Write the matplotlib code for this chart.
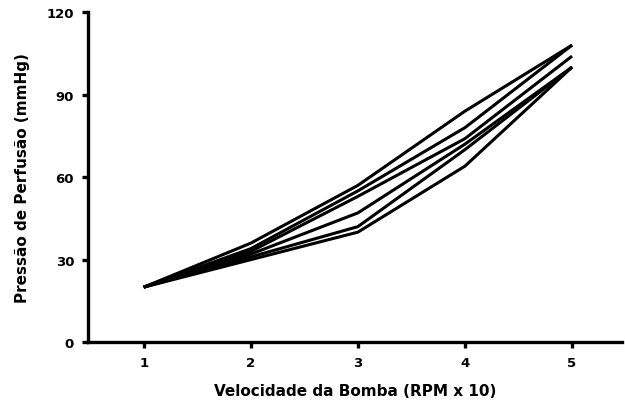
import matplotlib
matplotlib.use("Agg")
import matplotlib.pyplot as plt

# pump speed (RPM x 10) and perfusion pressure per run (mmHg)
speed = [1, 2, 3, 4, 5]
run_a = [20, 36, 57, 84, 108]
run_b = [20, 34, 55, 78, 108]
run_c = [20, 33, 53, 74, 104]
run_d = [20, 32, 47, 72, 100]
run_e = [20, 31, 42, 70, 100]
run_f = [20, 30, 40, 64, 100]
runs = [run_a, run_b, run_c, run_d, run_e, run_f]

y_ticks = [0, 30, 60, 90, 120]

plt.rcParams['font.family'] = ['DejaVu Sans']

fig = plt.figure(figsize=(6.25, 4.10), dpi=100)
ax = fig.add_axes([0.1408, 0.163, 0.855, 0.805])

for r in runs:
    ax.plot(speed, r, color='black', lw=2.2, solid_joinstyle='round', solid_capstyle='butt')

ax.set_xlim(0.48, 5.47)
ax.set_ylim(0, 120)
ax.set_xticks(speed)
ax.set_yticks(y_ticks)
ax.set_xticklabels([str(s) for s in speed], fontsize=9.5, fontweight='bold')
ax.set_yticklabels([str(t) for t in y_ticks], fontsize=9.5, fontweight='bold')

for side in ('top', 'right'):
    ax.spines[side].set_visible(False)
for side in ('left', 'bottom'):
    ax.spines[side].set_linewidth(2.4)

ax.tick_params(axis='both', direction='out', length=4, width=2.4, pad=6)

ax.set_xlabel('Velocidade da Bomba (RPM x 10)', fontsize=11, fontweight='bold', labelpad=10)
ax.set_ylabel('Pressão de Perfusão (mmHg)', fontsize=11, fontweight='bold', labelpad=12)

fig.savefig('out.png', dpi=100)
